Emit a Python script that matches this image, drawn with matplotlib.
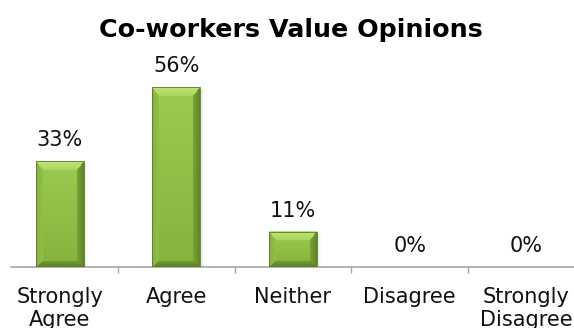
import numpy as np
import matplotlib
matplotlib.use("Agg")
import matplotlib.pyplot as plt
from matplotlib.patches import Rectangle
from matplotlib.colors import to_rgb

# Survey results
categories = ["Strongly\nAgree", "Agree", "Neither", "Disagree", "Strongly\nDisagree"]
percent = [33, 56, 11, 0, 0]
title = "Co-workers Value Opinions"

W_PX, H_PX, DPI = 574, 328, 100
fig = plt.figure(figsize=(W_PX / DPI, H_PX / DPI), dpi=DPI)
fig.patch.set_facecolor("white")

# axes placement in pixels (rows measured from top)
ax_left, ax_right = 11, 574
ax_bottom, ax_top = 267, 37
ax = fig.add_axes([ax_left / W_PX, 1 - ax_bottom / H_PX,
                   (ax_right - ax_left) / W_PX, (ax_bottom - ax_top) / H_PX])

slot = 116.7          # pixels per category
first_center = 59.6   # pixel x of first category centre
px_per_pct = 3.21     # pixels per percentage point
ax.set_xlim((ax_left - first_center) / slot, (ax_right - first_center) / slot)
ax.set_ylim(0, (ax_bottom - ax_top) / px_per_pct)
dx, dy = 1 / slot, 1 / px_per_pct

x = np.arange(len(categories))
bars = ax.bar(x, percent, width=0.41, color="none", edgecolor="none", zorder=2)


def bevel_image(w, h, bt=9, bs=7, bb=6):
    """RGB image of a bevelled green bar, w x h pixels."""
    h = max(int(round(h)), 2)
    w = max(int(round(w)), 2)
    yy, xx = np.mgrid[0:h, 0:w] + 0.5
    dl, dr, dt, db = xx, w - xx, yy, h - yy
    norm = np.stack([dt / bt, dl / bs, dr / bs, db / bb])
    region = np.argmin(norm, axis=0)
    m = np.min(norm, axis=0)

    top_c = np.array(to_rgb("#9ccb50"))
    bot_c = np.array(to_rgb("#86b23d"))
    t = (yy / h)[..., None]
    img = top_c * (1 - t) + bot_c * t

    bevel = {
        0: (to_rgb("#c0e67a"), to_rgb("#a9d65d")),   # top: outer, inner
        1: (to_rgb("#84b03a"), to_rgb("#93c146")),   # left
        2: (to_rgb("#5f8329"), to_rgb("#7ca336")),   # right
        3: (to_rgb("#5a7c26"), to_rgb("#769d33")),   # bottom
    }
    inside = m < 1
    for k, (outer, inner) in bevel.items():
        sel = inside & (region == k)
        f = m[sel][:, None]
        img[sel] = np.array(outer) * (1 - f) + np.array(inner) * f
    return img


for rect, v in zip(bars, percent):
    if v <= 0:
        continue
    x0, w, h = rect.get_x(), rect.get_width(), rect.get_height()
    # soft shadow to the right of the bar
    for k, a in enumerate([0.10, 0.06, 0.03]):
        ax.add_patch(Rectangle((x0 + w, 0), (k + 1) * 1.2 * dx, h - 2 * dy,
                               facecolor="#404040", edgecolor="none",
                               alpha=a, zorder=1.5))
    img = bevel_image(w / dx, h / dy)
    ax.imshow(img, extent=(x0, x0 + w, 0, h), aspect="auto",
              interpolation="bilinear", origin="upper", zorder=3)
    ax.add_patch(Rectangle((x0, 0), w, h, facecolor="none",
                           edgecolor="#5a7a27", linewidth=0.6, zorder=4))

# value labels
for xi, v in zip(x, percent):
    ax.annotate(f"{v}%", (xi, v), xytext=(0, 15 * 72 / DPI),
                textcoords="offset points", ha="center", va="baseline",
                fontsize=15, color="#111111", zorder=5)

# axis styling
for side in ("left", "right", "top"):
    ax.spines[side].set_visible(False)
ax.spines["bottom"].set_color("#a6a6a6")
ax.spines["bottom"].set_linewidth(1.2)
ax.set_yticks([])
ax.set_xticks(x)
ax.set_xticklabels(categories, fontsize=15, color="#111111")
for t in ax.get_xticklabels():
    t.set_linespacing(1.2)
ax.tick_params(axis="x", which="major", length=0, pad=14.4)
ax.set_xticks(x[:-1] + 0.5, minor=True)
ax.tick_params(axis="x", which="minor", length=4.5, width=1.0, color="#a6a6a6")
ax.set_facecolor("none")

fig.text(291 / W_PX, 1 - 37.3 / H_PX, title, ha="center", va="baseline",
         fontsize=18.3, fontweight="bold", color="black")

fig.savefig("out.png", dpi=DPI)
